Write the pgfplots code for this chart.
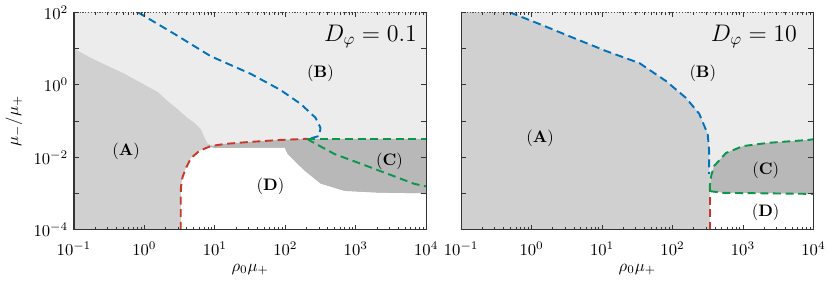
\documentclass[border=0pt]{standalone}
\usepackage{pgfplots}
\pgfplotsset{compat=1.18}
\definecolor{lblue}{RGB}{0,114,189}
\definecolor{lred}{RGB}{200,56,40}
\definecolor{lgreen}{RGB}{10,150,75}
\definecolor{cB}{RGB}{236,236,236}
\definecolor{cA}{RGB}{208,208,208}
\definecolor{cC}{RGB}{184,184,184}
\tikzset{
  regB/.style={fill=cB},
  regA/.style={draw=none, fill=cA},
  regC/.style={draw=none, fill=cC},
  regD/.style={draw=none, fill=white},
  dl/.style={line width=1.15pt, dash pattern=on 4.8pt off 2.8pt},
}
\newcommand{\frameit}{%
  \draw[black!80, line width=0.7pt] (rel axis cs:0,1) -- (rel axis cs:0,0) -- (rel axis cs:1,0) -- (rel axis cs:1,1);
  \draw[black!70, line width=0.7pt, densely dotted] (rel axis cs:0,1) -- (rel axis cs:1,1);
}
\begin{document}
\begin{tikzpicture}
% ---------- left panel: D_phi = 0.1
\begin{axis}[
    xmode=log, ymode=log, scale only axis,
    width=211.8pt, height=130.8pt,
    xmin=1e-1, xmax=1e4, ymin=1e-4, ymax=1e2,
    xtick={1e-1,1,1e1,1e2,1e3,1e4},
    ytick={1e-4,1e-3,1e-2,1e-1,1,1e1,1e2},
    yminorticks=false,
    axis on top,
    axis line style={draw=none},
    clip mode=individual,
    axis background/.style={regB},
    xlabel={$\rho_0\mu_+$},
    xticklabel style={yshift=-4pt},
    xlabel style={yshift=2pt},
    tick style={black!80, line width=0.5pt},
    major tick length=3pt, minor tick length=1.8pt,
  yticklabels={$10^{-4}$,,$10^{-2}$,,$10^{0}$,,$10^{2}$},
  ylabel={$\mu_-/\mu_+$},
]
% region A
\addplot[regA] coordinates {(0.1,1e-4)(0.1,10)(0.174,5.5)(0.525,2.0)(1.55,0.63)(2.14,0.355)(2.95,0.214)(4.07,0.123)(5.13,0.089)(6.31,0.060)(7.24,0.0324)(7.94,0.0234)(10,0.02)(10,1e-4)};
% region C (dark)
\addplot[regC] coordinates {(7.94,0.0225)(8.71,0.0204)(13.8,0.0234)(28.8,0.0263)(85,0.0302)(204,0.0324)(1e4,0.0324)(1e4,1e-3)(2042,1.05e-3)(692,1.17e-3)(316,1.86e-3)(186,4.27e-3)(107,0.0123)(97.7,0.0182)(31.6,0.0182)(10,0.0178)(8.71,0.019)};
% region D (white)
\addplot[regD] coordinates {(3.28,1e-4)(3.28,1.05e-3)(3.31,1.58e-3)(3.47,2.8e-3)(3.89,5.1e-3)(4.57,9.5e-3)(6.03,0.0151)(8.71,0.0190)(10,0.0178)(31.6,0.0182)(97.7,0.0182)(107,0.0123)(186,4.27e-3)(316,1.86e-3)(692,1.17e-3)(2042,1.05e-3)(1e4,1e-3)(1e4,1e-4)};
% boundaries
\addplot[dl, lblue] coordinates {(0.81,100)(2.69,25.1)(8.71,6.17)(32.4,2.0)(85.1,0.724)(166,0.295)(269,0.123)(316,0.0646)(302,0.0389)(219,0.0324)};
\addplot[dl, lred] coordinates {(3.28,1e-4)(3.28,1.05e-3)(3.31,1.58e-3)(3.47,2.8e-3)(3.89,5.1e-3)(4.57,9.5e-3)(6.03,0.0151)(8.71,0.0204)(13.8,0.0234)(28.8,0.0263)(85,0.0302)(204,0.0324)};
\addplot[dl, lgreen] coordinates {(204,0.0324)(1e4,0.0324)};
\addplot[dl, lgreen] coordinates {(204,0.0324)(229,0.0282)(501,0.0123)(1445,5.75e-3)(6761,1.86e-3)(1e4,1.58e-3)};
\frameit
\node at (axis cs:0.55,0.0151) {$(\mathbf{A})$};
\node at (axis cs:316,2.14) {$(\mathbf{B})$};
\node at (axis cs:3020,7.9e-3) {$(\mathbf{C})$};
\node at (axis cs:61.7,1.6e-3) {$(\mathbf{D})$};
\node[anchor=north east, font=\Large] at (rel axis cs:0.99,0.97) {$D_\varphi = 0.1$};
\end{axis}
% ---------- right panel: D_phi = 10
\begin{axis}[at={(232.8pt,0pt)},
    xmode=log, ymode=log, scale only axis,
    width=211.8pt, height=130.8pt,
    xmin=1e-1, xmax=1e4, ymin=1e-4, ymax=1e2,
    xtick={1e-1,1,1e1,1e2,1e3,1e4},
    ytick={1e-4,1e-3,1e-2,1e-1,1,1e1,1e2},
    yminorticks=false,
    axis on top,
    axis line style={draw=none},
    clip mode=individual,
    axis background/.style={regB},
    xlabel={$\rho_0\mu_+$},
    xticklabel style={yshift=-4pt},
    xlabel style={yshift=2pt},
    tick style={black!80, line width=0.5pt},
    major tick length=3pt, minor tick length=1.8pt,
  yticklabels={},
]
\addplot[regA] coordinates {(0.1,1e-4)(0.1,100)(0.49,100)(1.32,46.8)(3.98,19.5)(11.5,8.5)(33.9,3.98)(81.3,1.26)(155,0.437)(240,0.158)(316,0.0437)(331,0.0151)(331,3.5e-3)(339,3.5e-3)(339,1e-4)};
\addplot[regC] coordinates {(339,1.17e-3)(339,1.62e-3)(355,3.16e-3)(389,5.75e-3)(575,0.0132)(1000,0.0204)(2291,0.0251)(8511,0.0302)(1e4,0.0316)(1e4,9.8e-4)(513,1.05e-3)};
\addplot[regD] coordinates {(339,1e-4)(339,1.17e-3)(513,1.05e-3)(1e4,9.8e-4)(1e4,1e-4)};
\addplot[dl, lblue] coordinates {(0.49,100)(1.32,46.8)(3.98,19.5)(11.5,8.5)(33.9,3.98)(81.3,1.26)(155,0.437)(240,0.158)(316,0.0437)(331,0.0151)(331,3.5e-3)};
\addplot[dl, lred] coordinates {(339,1e-4)(339,1.17e-3)};
\addplot[dl, lgreen] coordinates {(339,1.17e-3)(339,1.62e-3)(355,3.16e-3)(389,5.75e-3)(575,0.0132)(1000,0.0204)(2291,0.0251)(8511,0.0302)(1e4,0.0316)};
\addplot[dl, lgreen] coordinates {(339,1.17e-3)(513,1.05e-3)(1e4,9.8e-4)};
\frameit
\node at (axis cs:1.32,0.0324) {$(\mathbf{A})$};
\node at (axis cs:269,2.14) {$(\mathbf{B})$};
\node at (axis cs:2100,4.3e-3) {$(\mathbf{C})$};
\node at (axis cs:2100,3e-4) {$(\mathbf{D})$};
\node[anchor=north east, font=\Large] at (rel axis cs:0.97,0.97) {$D_\varphi = 10$};
\end{axis}
\end{tikzpicture}
\end{document}
